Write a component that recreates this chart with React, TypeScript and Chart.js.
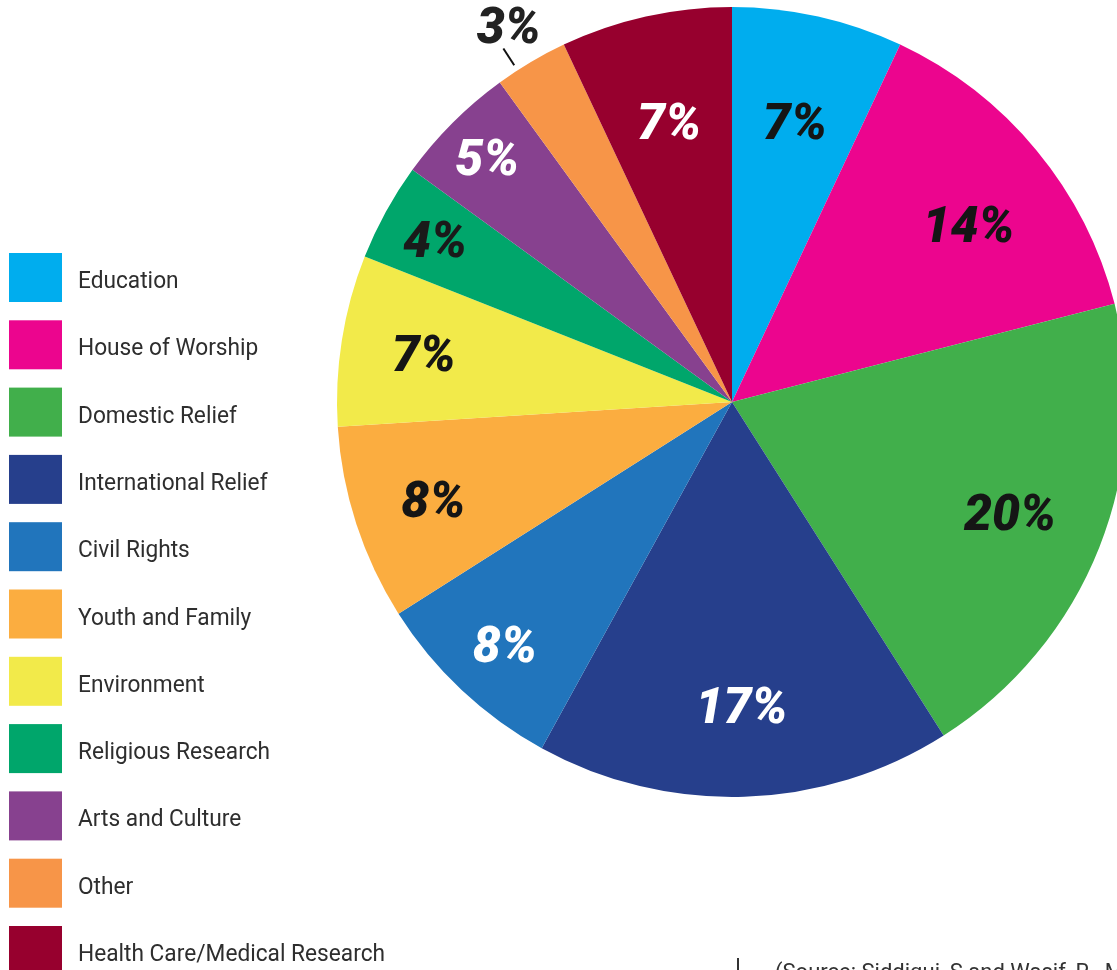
import React, { useEffect, useRef } from "react";
import { Chart, registerables } from "chart.js";

Chart.register(...registerables);

const categories = [
  "Education",
  "House of Worship",
  "Domestic Relief",
  "International Relief",
  "Civil Rights",
  "Youth and Family",
  "Environment",
  "Religious Research",
  "Arts and Culture",
  "Other",
  "Health Care/Medical Research",
];
const shares = [7, 14, 20, 17, 8, 8, 7, 4, 5, 3, 7];
const percentLabels = shares.map((v) => `${v}%`);
const sourceNote = "(Source: Siddiqui, S and Wasif, R., Muslim";

const sliceColors = [
  "#00ADEE",
  "#EC058E",
  "#41AF4B",
  "#263F8C",
  "#2175BC",
  "#FBAD40",
  "#F2EA4A",
  "#00A66B",
  "#87418F",
  "#F79548",
  "#97002E",
];
const labelColors = ["#151515", "#151515", "#151515", "#ffffff", "#ffffff", "#151515", "#151515", "#1a1a1a", "#ffffff", "#222222", "#ffffff"];
const labelRadius = [0.73, 0.75, 0.757, 0.767, 0.84, 0.795, 0.79, 0.858, 0.876, 1.11, 0.73];
const labelAngleShift = [0, 0.045, 0, 0, 0, 0, 0, 0, 0, 0, 0];

const overlayPlugin = {
  id: "overlay",
  afterDraw(chart: any) {
    const ctx = chart.ctx as CanvasRenderingContext2D;
    ctx.save();
    // legend
    ctx.font = "400 24px Roboto";
    const target = 307;
    const sx = target / ctx.measureText(categories[10]).width;
    categories.forEach((name, i) => {
      const cy = 279 + i * 67.3;
      ctx.fillStyle = sliceColors[i];
      ctx.fillRect(9, cy - 26, 53, 49);
      ctx.save();
      ctx.translate(78, cy + 9);
      ctx.scale(sx, 1);
      ctx.fillStyle = "#2e2e2e";
      ctx.textAlign = "left";
      ctx.textBaseline = "alphabetic";
      ctx.fillText(name, 0, 0);
      ctx.restore();
    });

    // percent labels
    const meta = chart.getDatasetMeta(0);
    ctx.font = "italic 900 50px Roboto";
    ctx.textAlign = "center";
    ctx.textBaseline = "alphabetic";
    meta.data.forEach((arc: any, i: number) => {
      const p = arc.getProps(["x", "y", "startAngle", "endAngle", "outerRadius"], true);
      const mid = (p.startAngle + p.endAngle) / 2 + labelAngleShift[i];
      const r = p.outerRadius * labelRadius[i];
      const x = p.x + Math.cos(mid) * r;
      const y = p.y + Math.sin(mid) * r;
      ctx.fillStyle = labelColors[i];
      ctx.fillText(percentLabels[i], x, y + 18);
      if (labelRadius[i] > 1) {
        ctx.strokeStyle = "#111";
        ctx.lineWidth = 2;
        ctx.beginPath();
        ctx.moveTo(p.x + Math.cos(mid - 0.04) * (p.outerRadius + 6), p.y + Math.sin(mid - 0.04) * (p.outerRadius + 6));
        ctx.lineTo(p.x + Math.cos(mid - 0.04) * (p.outerRadius + 26), p.y + Math.sin(mid - 0.04) * (p.outerRadius + 26));
        ctx.stroke();
      }
    });

    // source note
    ctx.fillStyle = "#333";
    ctx.fillRect(737, 958, 2, 20);
    ctx.font = "22px Roboto";
    ctx.textAlign = "left";
    ctx.fillText(sourceNote, 775, 979);
    ctx.restore();
  },
};

export default function App() {
  const ref = useRef<HTMLCanvasElement | null>(null);
  useEffect(() => {
    if (!ref.current) return;
    const chart = new Chart(ref.current, {
      type: "pie",
      data: {
        labels: categories,
        datasets: [
          {
            data: shares,
            backgroundColor: sliceColors,
            borderWidth: 0,
          },
        ],
      },
      options: {
        responsive: false,
        animation: false,
        devicePixelRatio: 1,
        layout: { padding: { left: 337, right: 13, top: 7, bottom: 173 } },
        plugins: { legend: { display: false }, tooltip: { enabled: false } },
      },
      plugins: [overlayPlugin],
    });
    return () => chart.destroy();
  }, []);
  return (
    <div style={{ position: "absolute", left: 0, top: 0, width: 1117, height: 970, overflow: "hidden", background: "#fff" }}>
      <canvas ref={ref} width={1140} height={970} style={{ width: 1140, height: 970, display: "block" }} />
    </div>
  );
}
